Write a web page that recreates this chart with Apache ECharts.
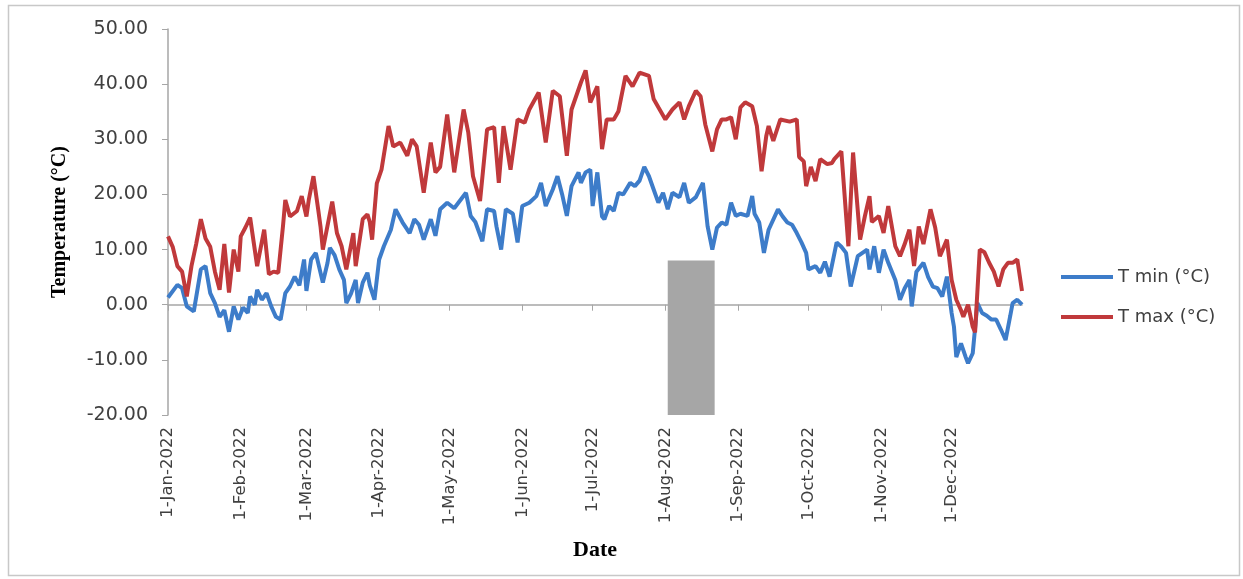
<!DOCTYPE html>
<html>
<head>
<meta charset="utf-8">
<title>T min / T max 2022</title>
<script src="https://cdn.jsdelivr.net/npm/echarts@6/dist/echarts.min.js"></script>
<style>
  html, body { margin: 0; padding: 0; background: #fff; }
  #chart { width: 1243px; height: 579px; }
</style>
</head>
<body>
<div id="chart"></div>
<script>
// day of year (0 = 1-Jan-2022) and temperature
var tmaxDay = [0,2,4,6,8,10,12,14,16,18,20,22,24,26,28,30,31,33,35,38,41,43,45,47,49,50,52,55,57,59,60,62,64,65,66,70,72,74,76,79,80,83,85,86,87,89,91,94,96,99,102,104,106,109,112,114,116,119,122,126,128,130,133,136,139,141,143,146,149,152,154,158,161,164,167,170,172,176,178,180,183,185,187,190,192,195,198,201,205,207,209,212,215,218,220,222,225,227,229,232,234,236,238,240,242,244,246,249,251,253,255,256,258,261,265,268,269,271,272,274,276,278,281,283,284,287,290,292,295,297,299,300,303,305,307,310,312,314,316,318,320,322,325,327,329,332,334,336,338,339,341,343,344,346,348,350,352,354,356,358,360,362,364];
var tmaxVal = [12.4,10.5,7,6,1.5,7,11,15.5,12,10.5,6,2.7,11,2.2,10,6,12.4,14,15.8,7,13.6,5.5,6,5.8,14.2,19,16,17,19.7,16,19,23.3,17.3,14.2,10,18.7,13,10.6,6.4,13,7,15.5,16.4,15,11.8,22,24.5,32.4,28.7,29.4,27,30,28.7,20.3,29.4,24,25,34.5,24,35.4,31.2,23.3,18.8,31.8,32.2,22.1,32.4,24.5,33.6,33,35.4,38.5,29.4,38.8,37.8,27,35.4,40.3,42.5,36.7,39.6,28.2,33.6,33.6,35.1,41.5,39.6,42.1,41.5,37.3,35.8,33.6,35.4,36.7,33.6,36,38.8,37.8,32.7,27.8,31.8,33.6,33.6,34,30,35.8,36.7,36,32.4,24.2,30.6,32.4,29.7,33.6,33.2,33.6,26.8,26,21.5,25,22.4,26.4,25.5,25.7,26.4,27.8,10.6,27.6,11.8,16,19.7,15,16.1,13,17.9,10.6,8.8,11,13.6,7,14.2,11,17.3,14,8.8,11.8,4.5,0.9,-1,-2.2,0,-4,-5,10,9.5,7.6,6,3.3,6.4,7.6,7.6,8.2,2.5];

var tminDay = [0,4,6,8,11,14,16,18,20,22,24,26,28,30,32,34,35,37,38,40,42,44,46,48,50,52,54,56,58,59,61,63,66,68,69,71,73,75,76,78,80,81,83,85,86,88,90,92,95,97,100,102,103,105,107,109,112,114,116,119,122,127,129,131,134,136,139,140,142,144,147,149,151,154,157,159,161,164,166,168,170,172,175,176,178,180,181,183,185,186,188,190,192,194,197,199,201,203,205,207,209,211,213,215,218,220,222,225,228,230,232,234,236,238,240,242,244,247,249,250,252,254,256,260,262,264,266,268,270,272,273,276,278,280,282,285,287,289,291,294,296,298,299,301,303,305,307,310,312,314,316,317,319,322,324,326,328,330,332,334,335,336,338,340,341,343,345,347,349,351,353,355,357,359,360,362,364];
var tminVal = [1.3,3.6,3,-0.3,-1.2,6.4,7,2.1,0.3,-2.2,-1,-4.9,-0.3,-2.7,-0.5,-1.5,1.5,0,2.7,0.9,2.1,-0.3,-2.2,-2.7,2.1,3.3,5.1,3.5,8.2,2.5,8.2,9.4,4,7.6,10.3,9,6.4,4.5,0.3,2,4.5,0.3,4,5.8,3.5,0.9,8.2,10.6,13.6,17.3,14.9,13.6,13,15.5,14.5,11.8,15.5,12.5,17.3,18.5,17.5,20.3,16.1,15,11.5,17.3,17,14.2,10,17.3,16.5,11.3,17.9,18.5,19.7,22.1,17.9,20.9,23.3,20,16.1,21.5,24,22.1,24,24.5,17.9,24,16,15.5,17.9,17,20.3,20,22.1,21.5,22.5,25,23.3,20.9,18.5,20.3,17.3,20.3,19.5,22.1,18.5,19.5,22.1,14.2,10,14,14.9,14.5,18.5,16.1,16.5,16.1,19.7,16.5,14.9,9.4,13.6,17.3,16,14.9,14.5,13,11.3,9.4,6.4,7,5.8,7.8,5.1,11.3,10.5,9.4,3.3,8.8,9.4,10,6.4,10.6,5.8,10,7.6,4.5,0.9,3,4.5,-0.3,6,7.6,5,3.3,3,1.5,5.1,-1.5,-4,-9.5,-7,-9.5,-10.6,-8.8,0.3,-1.5,-2,-2.7,-2.7,-4.5,-6.4,-2,0.3,0.9,0];

// month starts shown on the date axis
var monthTicks = ['2022-01-01','2022-02-01','2022-03-01','2022-04-01','2022-05-01','2022-06-01','2022-07-01','2022-08-01','2022-09-01','2022-10-01','2022-11-01','2022-12-01'];
var monthNames = ['Jan','Feb','Mar','Apr','May','Jun','Jul','Aug','Sep','Oct','Nov','Dec'];

// grey block in August
var shadeFrom = '2022-08-02';
var shadeTo = '2022-08-22';
var shadeTop = 8;

var yMin = -20, yMax = 50, yStep = 10;

var DAY = 86400000;
var YEAR0 = Date.UTC(2022, 0, 1);

// date string -> day of year
function doy(s) {
  var p = s.split('-');
  return Math.round((Date.UTC(+p[0], +p[1] - 1, +p[2]) - YEAR0) / DAY);
}
function dayPoints(days, vals) {
  return days.map(function (d, i) { return [d, vals[i]]; });
}

var chart = echarts.init(document.getElementById('chart'));

chart.setOption({
  animation: false,
  backgroundColor: '#fff',
  color: ['#3d7cc9', '#c0393b'],
  graphic: [{
    type: 'rect',
    shape: { x: 8.5, y: 5.5, width: 1231, height: 570 },
    style: { fill: 'none', stroke: '#c8c8c8', lineWidth: 1.5 },
    silent: true
  }],
  legend: {
    orient: 'vertical',
    left: 1056,
    top: 263,
    itemGap: 22,
    itemWidth: 52,
    itemHeight: 4,
    icon: 'rect',
    textStyle: { fontFamily: 'DejaVu Sans', fontSize: 18, color: '#404040' },
    data: ['T min (°C)', 'T max (°C)']
  },
  grid: { left: 168, right: 221, top: 29, bottom: 164 },
  xAxis: {
    type: 'value',
    min: 0,
    max: 364,
    name: 'Date',
    nameLocation: 'middle',
    nameGap: 124,
    nameTextStyle: { fontFamily: 'Liberation Serif', fontWeight: 'bold', fontSize: 22, color: '#000' },
    axisLine: { lineStyle: { color: '#a6a6a6', width: 1.5 } },
    axisTick: { show: true, length: 6, lineStyle: { color: '#a6a6a6' }, customValues: monthTicks.map(doy) },
    splitLine: { show: false },
    axisLabel: {
      rotate: 90,
      margin: 12,
      fontFamily: 'DejaVu Sans',
      fontSize: 16.5,
      color: '#404040',
      customValues: monthTicks.map(doy),
      formatter: function (v) {
        var d = new Date(YEAR0 + v * DAY);
        return d.getUTCDate() + '-' + monthNames[d.getUTCMonth()] + '-' + d.getUTCFullYear();
      }
    }
  },
  yAxis: {
    type: 'value',
    min: yMin,
    max: yMax,
    interval: yStep,
    name: 'Temperature (°C)',
    nameLocation: 'middle',
    nameGap: 98,
    nameTextStyle: { fontFamily: 'Liberation Serif', fontWeight: 'bold', fontSize: 20, color: '#000' },
    axisLine: { show: true, lineStyle: { color: '#a6a6a6', width: 1.5 } },
    axisTick: { show: true, length: 6, lineStyle: { color: '#a6a6a6' } },
    splitLine: { show: false },
    axisLabel: {
      margin: 20,
      fontFamily: 'DejaVu Sans',
      fontSize: 19,
      color: '#404040',
      formatter: function (v) { return v.toFixed(2); }
    }
  },
  series: [
    {
      name: 'T min (°C)',
      type: 'line',
      symbol: 'none',
      lineStyle: { width: 4 },
      data: dayPoints(tminDay, tminVal),
      z: 3,
      markArea: {
        silent: true,
        itemStyle: { color: '#a6a6a6', opacity: 1 },
        data: [[{ xAxis: doy(shadeFrom), yAxis: yMin }, { xAxis: doy(shadeTo), yAxis: shadeTop }]]
      }
    },
    {
      name: 'T max (°C)',
      type: 'line',
      symbol: 'none',
      lineStyle: { width: 4 },
      data: dayPoints(tmaxDay, tmaxVal),
      z: 3
    }
  ]
});
</script>
</body>
</html>
